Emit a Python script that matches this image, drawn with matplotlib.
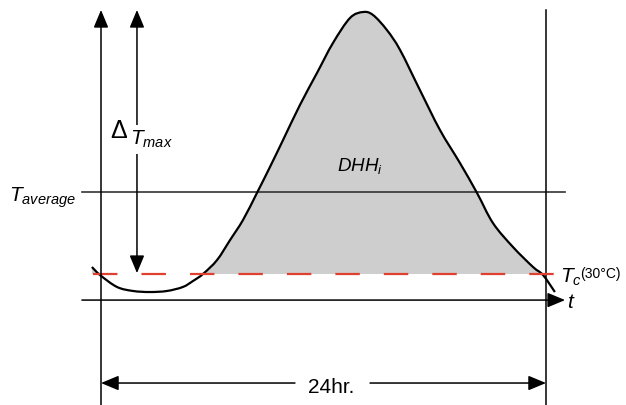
import numpy as np
import matplotlib.pyplot as plt
from matplotlib.path import Path
from matplotlib.patches import PathPatch, Rectangle

plt.rcParams["font.family"] = ["Liberation Sans", "DejaVu Sans"]
plt.rcParams["mathtext.fontset"] = "custom"
plt.rcParams["mathtext.it"] = "Liberation Sans:italic"
plt.rcParams["mathtext.rm"] = "Liberation Sans"
plt.rcParams["lines.scale_dashes"] = False

# daily temperature profile (hours, degC)
hours = [-0.49, -0.05, 0.86, 1.73, 2.64, 3.56, 4.42, 4.96, 5.50, 6.26, 6.96,
         7.66, 8.41, 9.11, 9.82, 10.73, 11.65, 12.51, 13.43, 14.13, 14.67,
         15.42, 16.13, 17.20, 18.28, 19.36, 20.28, 21.14, 22.22, 23.30,
         23.84, 24.48]
temps = [30.40, 29.94, 29.26, 29.03, 28.97, 29.03, 29.26, 29.60, 30.00, 30.80,
         31.94, 33.09, 34.63, 36.11, 37.66, 39.66, 41.49, 43.20, 44.63, 44.97,
         44.80, 43.94, 42.80, 40.51, 38.23, 36.34, 34.63, 32.91, 31.54, 30.40,
         29.94, 28.97]
T_c = 30.0
T_avg = 34.69
T_base = 28.51   # level of the time axis
T_top = 45.09
T_low = 22.51
day = 24


def smooth_path(x, y):
    # Catmull-Rom through the read points, handed to matplotlib as cubic beziers
    p = np.column_stack([x, y])
    n = len(p)
    verts = [p[0]]
    codes = [Path.MOVETO]
    for i in range(n - 1):
        p0 = p[max(i - 1, 0)]
        p3 = p[min(i + 2, n - 1)]
        c1 = p[i] + (p[i + 1] - p0) / 6
        c2 = p[i + 1] - (p3 - p[i]) / 6
        verts += [c1, c2, p[i + 1]]
        codes += [Path.CURVE4] * 3
    return verts, codes


fig = plt.figure(figsize=(6.26, 4.05), dpi=100)
ax = fig.add_axes([0, 0, 1, 1])
ax.set_xlim(-101 / 18.542, 525 / 18.542)
ax.set_ylim(30 - 131 / 17.5, 30 + 274 / 17.5)
ax.axis("off")

verts, codes = smooth_path(hours, temps)

# shaded degree-hours above T_c
fverts = verts + [(hours[-1], T_c), (hours[0], T_c), verts[0]]
fcodes = codes + [Path.LINETO, Path.LINETO, Path.CLOSEPOLY]
fill = PathPatch(Path(fverts, fcodes), facecolor="#cdcecd", edgecolor="none",
                 zorder=1)
ax.add_patch(fill)
fill.set_clip_path(Rectangle((-10, T_c), 50, 30, transform=ax.transData))

ax.add_patch(PathPatch(Path(verts, codes), facecolor="none", edgecolor="black",
                       lw=1.6, zorder=3))

# horizontal reference lines
ax.plot([-1.03, 25.03], [T_avg, T_avg], color="#333333", lw=1.2, zorder=2)
ax.plot([-0.43, 24.48], [T_c, T_c], color="#e04030", lw=1.6, zorder=4,
        dashes=(17.6, 17.3), dash_capstyle="butt")
ax.plot([day, day], [T_low, T_top], color="black", lw=1.1, zorder=2)

arrow = dict(arrowstyle="-|>,head_length=0.6,head_width=0.25", color="black",
             lw=1.1, mutation_scale=18, shrinkA=0, shrinkB=0)
# vertical (temperature) axis
ax.annotate("", xy=(0, T_top), xytext=(0, T_low), arrowprops=arrow, zorder=5)
# time axis
ax.annotate("", xy=(25.03, T_base), xytext=(-1.03, T_base), arrowprops=arrow,
            zorder=5)
# delta T max
darrow = dict(arrow, arrowstyle="<|-|>,head_length=0.6,head_width=0.25")
ax.annotate("", xy=(1.94, T_c + 0.05), xytext=(1.94, T_top), arrowprops=darrow,
            zorder=5)
# 24 hr dimension
y24 = 23.77
ax.annotate("", xy=(0, y24), xytext=(10.46, y24), arrowprops=arrow)
ax.annotate("", xy=(day, y24), xytext=(14.51, y24), arrowprops=arrow)
ax.text(12.4, 23.2, "24hr.", fontsize=15, ha="center", va="baseline")

# labels
ax.text(-4.96, 34.11, r"$T_{average}$", fontsize=15, va="baseline")
ax.text(1.56, 37.37, r"$T_{max}$", fontsize=15, va="baseline", zorder=6,
        bbox=dict(facecolor="white", edgecolor="none", pad=3))
ax.text(0.5, 37.77, "\u0394", fontsize=18, va="baseline", zorder=7)
ax.text(12.73, 35.89, r"$DHH_i$", fontsize=13.5, va="baseline")
ax.text(24.75, 29.49, r"$T_c$", fontsize=15, va="baseline")
ax.text(25.83, 29.77, "(30°C)", fontsize=10, va="baseline")
ax.text(25.13, 28.06, r"$t$", fontsize=15, va="baseline")

fig.savefig("out.png", dpi=100)
